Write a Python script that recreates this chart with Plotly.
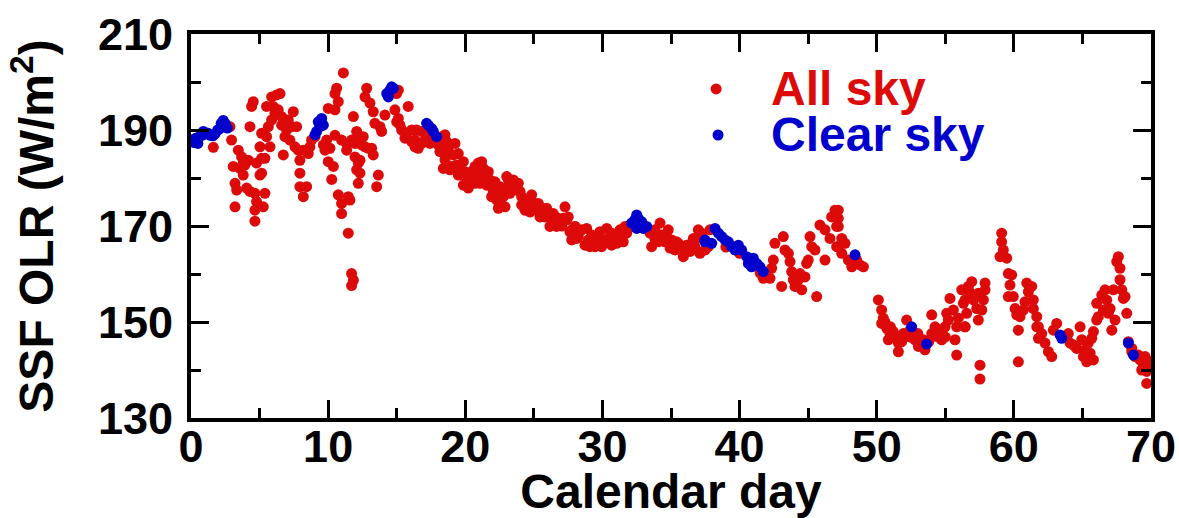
import plotly.graph_objects as go

# ---- All-sky SSF OLR samples (calendar day, W/m^2) ----
all_day_a = [1.63, 2.96, 2.84, 3.45, 3.69, 3.08, 3.57, 3.81, 3.93, 3.21, 3.33, 4.06, 4.30, 3.21, 4.66, 4.78, 4.66,
             5.27, 5.39, 4.66, 5.03, 4.78, 5.15, 5.39, 5.03, 5.15, 4.30, 4.42, 4.54, 5.51, 5.64, 5.51, 5.88, 6.24,
             6.49, 5.88, 6.12, 6.36, 6.61, 6.85, 6.73, 6.85, 7.21, 7.46, 7.34, 7.58, 7.82, 7.94, 7.94, 7.94, 8.19,
             8.43, 8.55, 8.67, 8.79, 5.76, 6.00, 6.61, 6.97, 7.09, 7.70, 8.19, 9.04, 5.15, 4.18, 3.81]
all_olr_a = [186.4, 187.9, 190.7, 185.8, 184.4, 182.4, 182.0, 180.6, 182.7, 178.9, 177.5, 177.9, 177.2, 174.0, 176.8,
             175.1, 173.3, 174.0, 176.8, 171.0, 180.6, 183.1, 184.1, 184.1, 186.5, 189.3, 190.7, 194.9, 195.9, 188.6,
             190.7, 194.9, 196.9, 197.3, 197.6, 192.1, 193.5, 194.2, 192.8, 191.4, 184.8, 188.6, 187.9, 193.8, 190.7,
             186.5, 185.8, 183.7, 181.0, 178.2, 176.1, 178.2, 185.1, 186.5, 187.9, 186.5, 194.9, 191.0, 190.0, 192.1,
             190.7, 185.8, 188.6, 181.0, 183.7, 183.1]

all_day_b = [11.11, 10.62, 10.50, 10.74, 10.01, 10.50, 9.89, 10.13, 10.50, 10.98, 11.35, 11.35, 11.71, 11.96, 12.20,
             12.08, 12.56, 12.69, 13.17, 13.29, 11.96, 12.20, 12.08, 12.32, 12.20, 10.01, 10.38, 10.26, 10.74, 10.98,
             11.47, 11.59, 10.98, 11.47, 11.71, 11.84, 11.71, 11.84, 12.81, 12.69, 13.05, 13.29, 13.41, 13.78, 13.66,
             13.54, 14.14, 13.90, 14.87, 15.12, 15.24, 15.84, 15.60, 16.09, 16.33, 16.57, 16.82, 17.55, 18.27, 18.40,
             18.76, 18.64, 15.12, 14.99, 15.36, 15.72, 16.09, 16.33, 16.82, 17.06, 17.42, 17.79, 18.03, 18.15, 16.45,
             15.00, 12.44, 12.93, 12.32, 9.77, 9.65]
all_olr_b = [201.9, 198.7, 197.6, 195.9, 194.5, 194.2, 187.9, 186.2, 188.9, 187.9, 187.2, 185.8, 187.9, 187.2, 187.9,
             189.7, 188.6, 186.5, 186.2, 184.8, 184.4, 183.1, 181.7, 181.0, 178.9, 183.4, 182.4, 179.7, 176.5, 174.7,
             176.1, 175.4, 172.6, 168.5, 160.1, 158.7, 157.6, 192.8, 198.7, 196.9, 195.6, 193.8, 191.4, 190.7, 180.6,
             178.2, 193.1, 189.7, 194.2, 192.4, 191.0, 194.9, 188.3, 190.0, 187.9, 186.2, 189.7, 189.0, 188.6, 182.0,
             182.4, 185.8, 198.3, 197.6, 190.0, 189.3, 187.6, 186.5, 187.2, 187.9, 187.2, 187.9, 186.9, 185.5, 190.0,
             191.7, 186.9, 186.2, 183.7, 185.8, 186.9]

all_day_c = [18.52, 18.52, 18.76, 19.25, 19.49, 19.86, 19.00, 19.49, 19.86, 20.22, 20.71, 21.19, 21.07, 21.68, 22.17,
             21.92, 22.41, 23.02, 23.50, 23.87, 23.26, 24.11, 24.35, 24.84, 25.08, 25.57, 25.93, 25.45, 26.30, 26.90,
             27.27, 27.51, 27.76, 28.12, 18.88, 19.98, 20.95, 21.44, 22.53, 22.77, 23.62, 24.60, 25.32, 25.81, 26.54,
             27.15, 19.98, 21.56, 22.04, 24.11, 26.66, 27.76, 19.61,
             18.64, 19.13, 19.37, 19.74, 20.10, 20.46, 20.83, 20.95, 21.32, 21.44, 21.80, 21.92, 22.17, 22.29, 22.53,
             22.77, 23.14, 23.38, 23.74, 23.99, 24.23, 24.47, 24.72, 24.96, 25.20, 25.45, 25.69, 26.05, 26.42, 26.78,
             27.03, 27.39, 27.63, 28.00, 28.12, 20.22, 20.71, 22.90, 24.72, 26.17]
all_olr_c = [189.0, 183.8, 185.8, 187.2, 185.1, 183.4, 182.4, 180.6, 178.5, 179.6, 182.4, 183.4, 178.9, 181.3, 179.2,
             176.1, 173.7, 180.3, 179.6, 178.9, 176.8, 176.1, 173.3, 176.5, 174.7, 173.3, 173.7, 171.9, 171.3, 170.2,
             174.0, 171.9, 167.1, 168.5, 181.7, 181.3, 181.3, 179.6, 178.2, 176.1, 177.8, 175.4, 174.7, 171.9, 171.9,
             171.6, 178.9, 178.5, 177.2, 174.4, 169.9, 169.2, 182.0,
             187.6, 184.8, 182.7, 181.3, 180.6, 181.3, 180.6, 183.1, 182.0, 180.6, 179.6, 178.2, 177.2, 175.4, 175.4,
             177.8, 179.6, 178.2, 177.5, 177.2, 175.4, 174.7, 175.8, 174.0, 173.3, 174.0, 172.3, 171.9, 172.6, 171.6,
             170.0, 171.3, 168.8, 169.9, 167.4, 177.9, 178.9, 174.0, 172.9, 169.9]

all_day_d = [28.00, 28.49, 28.73, 29.22, 29.46, 29.94, 30.31, 30.43, 30.92, 31.40, 31.65, 31.77, 28.24, 28.97, 29.70,
             30.67, 31.16, 32.00, 33.59, 33.47, 34.20, 34.32, 34.80, 35.05, 35.29, 35.78, 35.90, 36.39, 36.75, 36.99,
             37.11, 33.83, 34.56, 35.53, 36.14, 36.63,
             28.12, 28.85, 29.09, 29.58, 29.82, 30.19, 30.67, 31.04, 31.28, 31.52, 31.89, 33.83, 34.08, 34.68, 34.93,
             35.41, 36.02, 36.50, 36.87, 37.23]
all_olr_d = [169.9, 169.2, 166.0, 168.1, 165.7, 165.7, 169.5, 167.4, 168.1, 167.8, 169.9, 168.5, 167.8, 167.1, 167.8,
             166.0, 167.1, 170.2, 165.7, 168.5, 170.6, 168.1, 169.2, 167.1, 165.0, 165.7, 163.6, 164.7, 165.7, 169.2,
             164.3, 167.4, 166.7, 166.4, 166.0, 167.4,
             168.5, 169.5, 165.7, 167.1, 168.8, 166.7, 168.5, 166.4, 169.2, 166.7, 169.5, 169.2, 166.7, 167.8, 165.4,
             166.7, 165.0, 166.4, 167.4, 168.5]

all_day_e = [37.48, 41.73, 42.22, 42.34, 42.46, 42.58, 43.19, 43.31, 43.56, 43.68, 43.80, 43.07, 44.04, 44.28, 44.53,
             44.77, 44.89, 45.01, 45.14, 45.26, 45.62, 45.50, 45.86, 46.23, 46.59, 46.71, 46.96, 47.20, 46.23, 47.08,
             37.72, 37.84, 43.92, 44.41, 39.00, 40.00, 40.80, 41.50]
all_olr_e = [165.0, 159.1, 159.1, 161.2, 162.9, 166.4, 167.8, 165.0, 164.3, 162.6, 160.5, 157.4, 157.4, 158.8, 156.7,
             159.4, 162.2, 162.9, 167.8, 165.7, 155.3, 165.0, 170.2, 169.2, 167.4, 171.9, 173.3, 169.9, 162.9, 165.7,
             165.7, 169.2, 158.8, 160.1, 165.6, 164.3, 162.0, 160.2]

all_day_f = [47.20, 47.20, 47.08, 47.45, 47.69, 47.45, 47.93, 48.18, 48.78, 49.03, 48.54, 50.12, 50.36, 50.48, 50.36,
             50.73, 50.97, 50.85, 51.33, 51.58, 51.58, 51.82, 52.18, 52.18, 52.79, 53.04, 53.52, 53.40, 54.01, 54.25,
             54.01, 54.74, 54.98, 55.10, 55.34, 55.59, 55.83, 55.71, 55.83, 56.32, 56.44, 56.68, 51.21, 51.94, 52.43,
             54.37, 55.22, 55.95, 56.20, 50.60, 51.00, 52.40, 53.00, 53.80, 54.50, 55.00]
all_olr_f = [173.3, 171.6, 169.9, 167.4, 166.4, 164.3, 162.9, 161.5, 161.9, 161.5, 162.9, 154.6, 152.5, 150.8, 149.7,
             148.7, 147.6, 146.3, 146.9, 145.6, 143.8, 145.9, 150.4, 147.6, 146.3, 144.9, 144.2, 146.3, 147.6, 149.0,
             151.5, 146.3, 149.0, 151.8, 154.9, 152.5, 149.0, 146.3, 143.1, 153.9, 149.0, 157.4, 148.0, 147.6, 148.3,
             147.0, 150.4, 150.8, 156.7, 150.0, 149.0, 146.9, 147.6, 145.9, 148.3, 146.9]

all_day_g = [56.44, 56.44, 56.93, 56.80, 57.41, 57.29, 57.41, 57.90, 57.78, 57.53, 57.53, 59.11, 59.11, 59.23, 58.99,
             59.48, 59.60, 59.84, 59.72, 59.60, 59.96, 60.09, 60.45, 60.33, 60.33, 60.94, 61.06, 60.81, 61.30, 61.42,
             61.67, 61.67, 61.79, 62.03, 62.27, 62.52, 62.76, 63.12, 63.73, 63.97, 64.34, 64.83, 64.95, 65.19, 65.31,
             65.80, 65.80, 66.04, 66.04, 66.41, 66.65, 66.53, 66.89, 67.14, 67.26, 67.50, 67.62, 67.74, 67.74, 67.99,
             68.23, 68.35, 68.60, 68.84, 69.20, 69.45, 69.81, 69.93, 69.69,
             56.56, 57.05, 57.66, 57.90, 56.68, 60.21, 60.69, 61.42, 61.79, 62.88, 64.10, 64.58, 65.07, 65.43, 65.56,
             65.68, 66.16, 66.77, 67.02, 67.38, 67.87, 68.11, 68.60, 69.08, 69.57, 69.69, 69.32]
all_olr_g = [154.6, 149.0, 158.4, 156.0, 156.0, 152.8, 150.4, 158.1, 154.6, 141.0, 138.1, 168.5, 166.7, 165.0, 163.6,
             163.3, 160.1, 159.8, 157.7, 155.3, 155.3, 152.8, 151.1, 148.3, 141.7, 158.1, 156.3, 154.2, 157.4, 154.6,
             151.1, 149.0, 146.6, 147.6, 145.6, 143.8, 142.8, 149.7, 146.9, 147.6, 145.2, 149.0, 146.3, 144.2, 141.7,
             142.1, 148.0, 150.4, 153.9, 155.6, 156.7, 152.5, 151.8, 148.3, 156.7, 162.6, 163.6, 161.2, 158.8, 154.9,
             151.8, 145.9, 143.8, 142.8, 142.1, 140.7, 141.8, 141.4, 137.2,
             151.8, 154.6, 152.5, 156.7, 156.7, 151.5, 152.5, 152.8, 149.0, 148.3, 145.6, 144.5, 142.8, 145.6, 143.5,
             146.6, 151.1, 154.6, 152.8, 150.4, 156.7, 155.3, 144.5, 143.1, 142.8, 139.7, 140.0]

# ---- Clear-sky SSF OLR samples ----
clr_day = [0.05, 0.20, 0.35, 0.50, 0.60, 0.80, 0.90, 1.10, 1.25, 1.40, 1.60, 1.75, 1.95, 2.10, 2.20, 2.35, 2.50, 2.65,
           9.28, 9.53, 9.40, 9.16, 9.65, 9.04,
           14.51, 14.63, 14.39, 14.27, 14.75,
           17.30, 17.67, 17.91, 17.55, 17.18,
           32.50, 32.13, 32.50, 32.98, 33.23, 32.86, 32.62, 32.37,
           37.48, 37.48, 38.21, 37.97, 38.70, 39.18, 39.42, 39.91, 40.15, 40.52, 40.64, 41.00, 41.25, 41.49, 41.73,
           40.88, 38.94, 39.67, 38.45,
           48.42, 52.55, 53.64, 63.37, 63.49, 68.35, 68.72]
clr_olr = [187.9, 187.4, 188.3, 187.2, 188.6, 188.9, 189.7, 189.4, 189.3, 188.9, 188.8, 189.2, 190.0, 190.3, 191.4,
           192.0, 191.3, 190.4,
           191.7, 192.4, 190.7, 189.7, 191.0, 189.0,
           198.3, 199.0, 196.9, 197.6, 198.7,
           191.0, 189.7, 188.6, 190.3, 191.4,
           172.3, 170.6, 169.5, 169.5, 169.9, 170.9, 171.6, 171.3,
           166.7, 167.1, 169.5, 166.4, 167.8, 166.7, 165.7, 166.0, 165.0, 163.6, 162.2, 163.3, 162.2, 161.5, 160.5,
           161.5, 167.1, 165.0, 168.5,
           164.0, 149.0, 145.4, 147.3, 146.6, 145.6, 143.1]

all_day = all_day_a + all_day_b + all_day_c + all_day_d + all_day_e + all_day_f + all_day_g
all_olr = all_olr_a + all_olr_b + all_olr_c + all_olr_d + all_olr_e + all_olr_f + all_olr_g
assert len(all_day) == len(all_olr)
assert len(clr_day) == len(clr_olr)

x_ticks = [0, 10, 20, 30, 40, 50, 60, 70]
y_ticks = [130, 150, 170, 190, 210]

RED = "#dd0a0a"
BLUE = "#0000cd"
FONT = "Liberation Sans"
MARKER = 11

fig = go.Figure()
fig.add_trace(go.Scatter(x=all_day, y=all_olr, mode="markers", name="All sky",
                         marker=dict(size=MARKER, color=RED, line=dict(width=0)), showlegend=False))
fig.add_trace(go.Scatter(x=clr_day, y=clr_olr, mode="markers", name="Clear sky",
                         marker=dict(size=MARKER, color=BLUE, line=dict(width=0)), showlegend=False))

tick_font = dict(family=FONT, size=45, color="black", weight="bold")
title_font = dict(family=FONT, size=48, color="black", weight="bold")
axis_style = dict(showline=True, linewidth=4, linecolor="black", mirror="allticks",
                  ticks="inside", ticklen=18, tickwidth=3, tickcolor="black",
                  showgrid=False, zeroline=False, tickfont=tick_font, automargin=False)

fig.update_xaxes(range=[0, 70], tickmode="array", tickvals=x_ticks, ticktext=[str(v) for v in x_ticks],
                 ticklabelstandoff=-14,
                 minor=dict(dtick=5, tick0=0, ticks="inside", ticklen=10, tickwidth=3, tickcolor="black",
                            showgrid=False),
                 title=dict(text="Calendar day", font=title_font, standoff=0),
                 **axis_style)
fig.update_yaxes(range=[130, 210], tickmode="array", tickvals=y_ticks, ticktext=[str(v) for v in y_ticks],
                 ticklabelstandoff=5,
                 minor=dict(dtick=10, tick0=130, ticks="inside", ticklen=10, tickwidth=3, tickcolor="black",
                            showgrid=False),
                 title=dict(text="SSF OLR (W/m<sup>2</sup>)", font=title_font, standoff=30),
                 **axis_style)

# legend: coloured dots with coloured labels
legend_items = [("All sky", RED, 0.547, 0.857), ("Clear sky", BLUE, 0.549, 0.737)]
for label, colour, xd, yd in legend_items:
    fig.add_shape(type="circle", xref="paper", yref="paper", xsizemode="pixel", ysizemode="pixel",
                  xanchor=xd, yanchor=yd, x0=-5.5, x1=5.5, y0=-5.5, y1=5.5,
                  fillcolor=colour, line=dict(width=0))
    fig.add_annotation(text=label, xref="paper", yref="paper", x=0.602, y=yd, xanchor="left",
                       yanchor="middle", showarrow=False,
                       font=dict(family=FONT, size=48, color=colour, weight="bold"))

fig.update_layout(width=1179, height=518, margin=dict(l=191, r=28, t=34, b=100),
                  plot_bgcolor="white", paper_bgcolor="white", showlegend=False)

fig.write_html("out.html")
